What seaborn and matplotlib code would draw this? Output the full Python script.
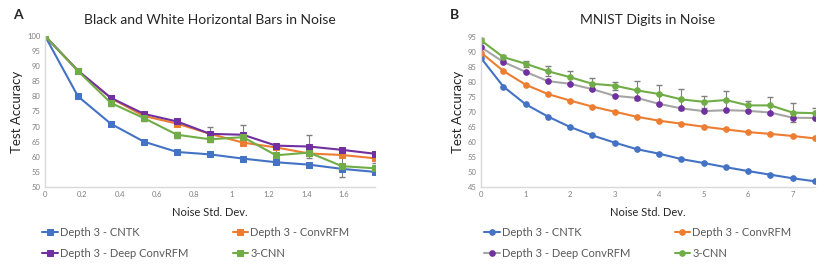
import numpy as np
import pandas as pd
import seaborn as sns
from matplotlib import pyplot as plt

# panel A: black & white bars in noise
a_noise = [k * np.sqrt(2) / 8 for k in range(11)]
a_cntk = [100, 80.0, 70.9, 65.0, 61.6, 60.8, 59.4, 58.2, 57.4, 56.0, 55.0]
a_convrfm = [100, 88.5, 79.4, 73.5, 71.0, 67.6, 64.7, 63.1, 61.1, 60.6, 59.5]
a_deep = [100, 88.5, 79.5, 74.2, 71.7, 67.6, 67.3, 63.7, 63.4, 62.3, 61.0]
a_cnn = [100, 88.4, 77.8, 72.8, 67.3, 65.8, 66.5, 60.5, 61.4, 56.9, 56.2]
a_deep_err = [0, 0, 0, 0, 0, 2.2, 3.2, 0, 3.9, 0, 0]
a_cnn_err = [0, 0.6, 1.0, 1.0, 1.0, 1.0, 0.6, 2.3, 0.6, 3.5, 1.7]

# panel B: MNIST digits in noise
b_noise = [k * 0.5 for k in range(16)]
b_cntk = [88.0, 78.5, 72.6, 68.5, 65.0, 62.2, 59.8, 57.6, 56.1, 54.3, 53.0, 51.6, 50.3, 49.1, 47.9, 46.9]
b_convrfm = [89.8, 83.7, 79.1, 76.0, 73.8, 71.8, 70.1, 68.4, 67.1, 66.1, 65.1, 64.2, 63.3, 62.7, 62.0, 61.2]
b_deep = [91.6, 86.7, 83.4, 80.3, 79.4, 77.6, 75.4, 74.7, 72.7, 71.2, 70.3, 70.6, 70.4, 69.8, 68.1, 68.0]
b_cnn = [93.9, 88.3, 86.1, 83.6, 81.6, 79.4, 78.8, 77.2, 76.0, 74.2, 73.4, 74.0, 72.2, 72.2, 69.8, 69.6]
b_cnn_err = [0.8, 0.8, 1.0, 1.6, 2.0, 1.9, 1.3, 3.1, 2.9, 3.5, 2.1, 3.0, 1.6, 2.7, 3.2, 1.7]

labels = ["Depth 3 - CNTK", "Depth 3 - ConvRFM", "Depth 3 - Deep ConvRFM", "3-CNN"]
blue, orange, purple, green, grey = "#4472C4", "#ED7D31", "#7030A0", "#70AD47", "#A5A5A5"

sns.set_style("white")
plt.rcParams['font.family'] = ['Lato', 'DejaVu Sans']

fig = plt.figure(figsize=(8.3, 2.69), dpi=100)
ax_a = fig.add_axes([45 / 830, 82 / 269, 330 / 830, 151 / 269])
ax_b = fig.add_axes([481 / 830, 82 / 269, 334 / 830, 150 / 269])


def draw_series(ax, x, y, label, line_color, marker, marker_color=None):
    marker_color = marker_color or line_color
    df = pd.DataFrame({"x": x, "y": y})
    sns.lineplot(data=df, x="x", y="y", ax=ax, color=line_color, marker=marker,
                 markersize=4, markerfacecolor=marker_color, markeredgecolor=marker_color,
                 linewidth=1.5, label=label)


def style_axes(ax):
    sns.despine(ax=ax)
    for side in ["left", "bottom"]:
        ax.spines[side].set_color("#D9D9D9")
        ax.spines[side].set_linewidth(1)
    ax.tick_params(axis="both", length=0, labelsize=5.5, labelcolor="#7F7F7F", pad=3)
    ax.set_xlabel("Noise Std. Dev.", fontsize=8, labelpad=6)
    ax.set_ylabel("Test Accuracy", fontsize=9.5, labelpad=3)


def add_legend(ax, x0):
    h, l = ax.get_legend_handles_labels()
    order = [0, 2, 1, 3]
    ax.legend([h[i] for i in order], [l[i] for i in order], ncol=2, frameon=False,
              loc="upper left", bbox_to_anchor=(x0 / 830, 1 - 227 / 269),
              bbox_transform=fig.transFigure, fontsize=8, handlelength=1.4,
              handletextpad=0.2, columnspacing=4.0, labelspacing=0.9, borderaxespad=0,
              borderpad=0, labelcolor="#595959")


# panel A
draw_series(ax_a, a_noise, a_cntk, labels[0], blue, "s")
draw_series(ax_a, a_noise, a_convrfm, labels[1], orange, "s")
draw_series(ax_a, a_noise, a_deep, labels[2], purple, "s")
draw_series(ax_a, a_noise, a_cnn, labels[3], green, "s")
ax_a.errorbar(a_noise, a_deep, yerr=a_deep_err, fmt="none", ecolor="#7F7F7F", elinewidth=0.8, capsize=2, zorder=1)
ax_a.errorbar(a_noise, a_cnn, yerr=a_cnn_err, fmt="none", ecolor="#7F7F7F", elinewidth=0.8, capsize=2, zorder=1)
ax_a.set_xlim(0, a_noise[-1])
ax_a.set_ylim(50, 100)
ax_a.set_xticks(np.arange(0, 1.7, 0.2))
ax_a.set_xticklabels(["0", "0.2", "0.4", "0.6", "0.8", "1", "1.2", "1.4", "1.6"])
ax_a.set_yticks(range(50, 101, 5))
style_axes(ax_a)
ax_a.set_title("Black and White Horizontal Bars in Noise", fontsize=10, pad=9)
add_legend(ax_a, 42)
fig.text(13 / 830, 1 - 15 / 269, "A", fontsize=10, fontweight="bold", va="center")

# panel B
draw_series(ax_b, b_noise, b_cntk, labels[0], blue, "o")
draw_series(ax_b, b_noise, b_convrfm, labels[1], orange, "o")
draw_series(ax_b, b_noise, b_deep, labels[2], grey, "o", purple)
draw_series(ax_b, b_noise, b_cnn, labels[3], green, "o")
ax_b.errorbar(b_noise, b_cnn, yerr=b_cnn_err, fmt="none", ecolor="#7F7F7F", elinewidth=0.8, capsize=2, zorder=1)
ax_b.set_xlim(0, 7.5)
ax_b.set_ylim(45, 95)
ax_b.set_xticks(range(0, 8))
ax_b.set_yticks(range(45, 96, 5))
style_axes(ax_b)
ax_b.set_title("MNIST Digits in Noise", fontsize=10, pad=9)
add_legend(ax_b, 484)
fig.text(450 / 830, 1 - 15 / 269, "B", fontsize=10, fontweight="bold", va="center")

fig.savefig("out.png", dpi=100)
